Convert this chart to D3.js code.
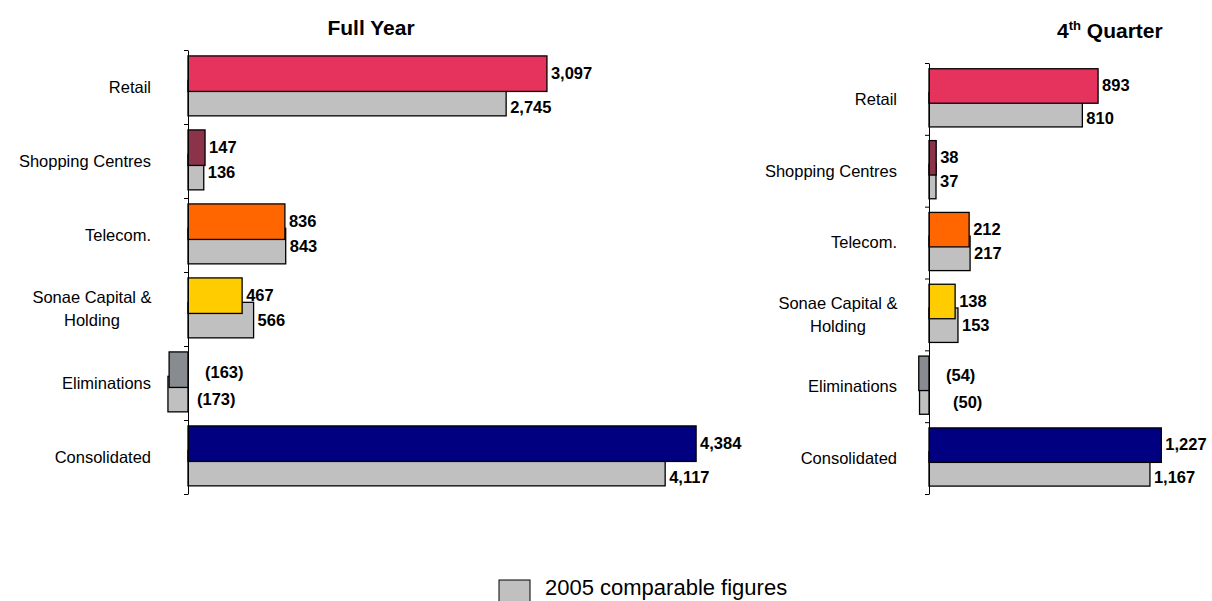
<!DOCTYPE html>
<html>
<head>
<meta charset="utf-8">
<script src="https://cdn.jsdelivr.net/npm/d3@7"></script>
<style>
  body { margin: 0; background: #fff; }
  text { font-family: "Liberation Sans", Arial, sans-serif; }
</style>
</head>
<body>
<div id="chart"></div>
<script>
// data
const categories = ["Retail", "Shopping Centres", "Telecom.", "Sonae Capital & Holding", "Eliminations", "Consolidated"];
const colors = ["#E5335D", "#8B3349", "#FF6600", "#FFCC00", "#888B90", "#000080"];
const fullYear2006 = [3097, 147, 836, 467, -163, 4384];
const fullYear2005 = [2745, 136, 843, 566, -173, 4117];
const quarter2006 = [893, 38, 212, 138, -54, 1227];
const quarter2005 = [810, 37, 217, 153, -50, 1167];
const priorColor = "#C0C0C0";

const svgWidth = 1212;
const svgHeight = 601;

const svg = d3.select("#chart")
  .append("svg")
  .attr("width", svgWidth)
  .attr("height", svgHeight);

const fmt = v => v < 0 ? `(${d3.format(",")(-v)})` : d3.format(",")(v);

function drawPanel(opts) {
  const x = d3.scaleLinear().domain([0, opts.maxValue]).range([opts.x0, opts.x0 + opts.maxWidth]);
  const y = d3.scaleLinear().domain([0, categories.length]).range([opts.top, opts.bottom]);
  const band = y(1) - y(0);
  const longBar = d => Math.abs(x(d) - x(0)) > opts.maxWidth * 0.4;

  const g = svg.append("g");

  // prior year bars (drawn first, current year overlaps them)
  g.selectAll(".prior")
    .data(opts.prior)
    .enter()
    .append("rect")
    .attr("x", d => Math.min(x(0), x(d)))
    .attr("y", (d, i) => y(i) + band * 0.41)
    .attr("width", d => Math.abs(x(d) - x(0)))
    .attr("height", band * 0.48)
    .attr("fill", priorColor)
    .attr("stroke", "#000")
    .attr("stroke-width", 1.3);

  g.selectAll(".current")
    .data(opts.current)
    .enter()
    .append("rect")
    .attr("x", d => Math.min(x(0), x(d)))
    .attr("y", (d, i) => y(i) + band * 0.08)
    .attr("width", d => Math.abs(x(d) - x(0)))
    .attr("height", band * 0.48)
    .attr("fill", (d, i) => colors[i])
    .attr("stroke", "#000")
    .attr("stroke-width", 1.3);

  // value labels
  g.selectAll(".curLabel")
    .data(opts.current)
    .enter()
    .append("text")
    .attr("x", d => d < 0 ? x(0) + opts.negCur : x(d) + 4)
    .attr("y", (d, i) => y(i) + band * (d < 0 ? 0.35 : 0.31))
    .attr("dy", "0.35em")
    .attr("font-size", 16.5)
    .attr("font-weight", "bold")
    .text(fmt);

  g.selectAll(".priorLabel")
    .data(opts.prior)
    .enter()
    .append("text")
    .attr("x", d => d < 0 ? x(0) + opts.negPrior : x(d) + 4)
    .attr("y", (d, i) => y(i) + band * (longBar(d) ? 0.77 : (d < 0 ? 0.72 : 0.65)))
    .attr("dy", "0.35em")
    .attr("font-size", 16.5)
    .attr("font-weight", "bold")
    .text(fmt);

  // category axis
  const axis = d3.axisLeft(y)
    .ticks(categories.length)
    .tickFormat("")
    .tickSize(4)
    .tickSizeOuter(0);
  g.append("g")
    .attr("transform", `translate(${x(0)},0)`)
    .call(axis)
    .call(a => a.selectAll("line, path").attr("stroke", "#000").attr("stroke-width", 1));

  // category labels
  categories.forEach((c, i) => {
    const cy = y(i) + band / 2;
    if (c.includes("&")) {
      const lines = ["Sonae Capital &", "Holding"];
      lines.forEach((l, j) => {
        g.append("text")
          .attr("x", opts.labelX - 59)
          .attr("y", cy + (j - 0.5) * 23)
          .attr("dy", "0.35em")
          .attr("text-anchor", "middle")
          .attr("font-size", 16.5)
          .text(l);
      });
    } else {
      g.append("text")
        .attr("x", opts.labelX)
        .attr("y", cy)
        .attr("dy", "0.35em")
        .attr("text-anchor", "end")
        .attr("font-size", 16.5)
        .text(c);
    }
  });
}

drawPanel({
  current: fullYear2006, prior: fullYear2005,
  x0: 188, maxValue: 5000, maxWidth: 579.5,
  top: 50, bottom: 494, labelX: 151,
  negCur: 17, negPrior: 9
});

drawPanel({
  current: quarter2006, prior: quarter2005,
  x0: 929, maxValue: 1500, maxWidth: 284,
  top: 63, bottom: 494, labelX: 897,
  negCur: 17, negPrior: 24
});

// titles
svg.append("text")
  .attr("x", 371)
  .attr("y", 35)
  .attr("text-anchor", "middle")
  .attr("font-size", 21)
  .attr("font-weight", "bold")
  .text("Full Year");

const q = svg.append("text")
  .attr("x", 1057)
  .attr("y", 38)
  .attr("font-size", 21)
  .attr("font-weight", "bold");
q.append("tspan").text("4");
q.append("tspan").attr("font-size", 13).attr("dy", -8).text("th");
q.append("tspan").attr("dy", 8).text(" Quarter");

// legend
svg.append("rect")
  .attr("x", 499)
  .attr("y", 580)
  .attr("width", 31)
  .attr("height", 24)
  .attr("fill", priorColor)
  .attr("stroke", "#000")
  .attr("stroke-width", 1);

svg.append("text")
  .attr("x", 545)
  .attr("y", 595)
  .attr("font-size", 22)
  .text("2005 comparable figures");
</script>
</body>
</html>
